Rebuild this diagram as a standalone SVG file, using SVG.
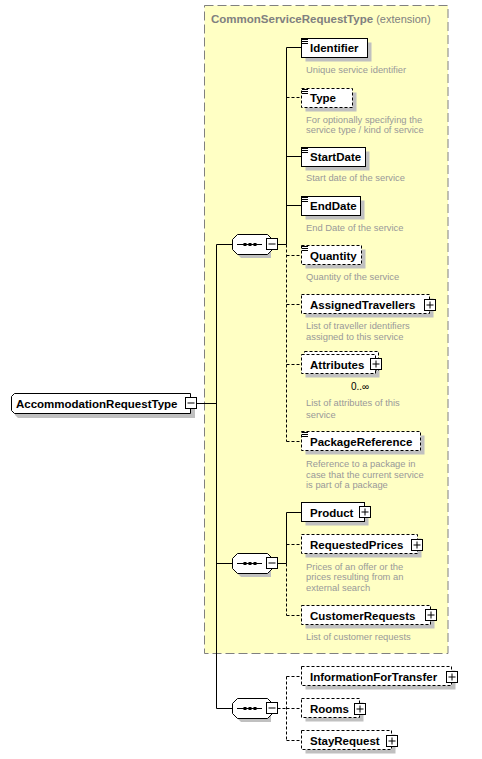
<svg xmlns="http://www.w3.org/2000/svg" width="482" height="759" viewBox="0 0 482 759">
<style>
.bg{fill:#fff}
.ext{fill:#ffffc4;stroke:#808080;stroke-dasharray:9,4}
.box{fill:#fff;stroke:#000}
.opt{stroke-dasharray:3,2}
.sh{fill:#c0c0c0}
.name{font-family:"Liberation Sans",Arial,sans-serif;font-weight:bold;font-size:11.5px;fill:#000}
.desc{font-family:"Liberation Sans",Arial,sans-serif;font-size:9.4px;fill:#999}
.title{font-family:"Liberation Sans",Arial,sans-serif;font-size:11.5px;fill:#808080}
.ln{stroke:#000;fill:none}
.dl{stroke:#000;fill:none;stroke-dasharray:3,2}
.ic{stroke:#000}
.pm{fill:#fff;stroke:#000}
.card{font-family:"Liberation Sans",Arial,sans-serif;font-size:10px;fill:#000}
</style>
<defs>
<g id="plus"><rect class="pm" x="0" y="0" width="11" height="11"/><path class="ic" d="M2,5.5H9M5.5,2V9"/></g>
<g id="minus"><rect class="pm" x="0" y="0" width="11" height="11"/><path class="ic" d="M2,5.5H9"/></g>
<g id="icon"><path class="ic" d="M302,0.5h6M302,2.5h6M302,4.5h6"/></g>
<g id="seq">
<path class="sh" d="M241,4h30v20h-30l-5,-5v-10z"/>
<path class="box" d="M237.5,0.5h30l5,5v10l-5,5h-30l-5,-5v-10z"/>
<path class="ln" d="M237,10.5h25"/>
<rect x="243.5" y="9" width="3" height="3"/>
<rect x="248.5" y="9" width="3" height="3"/>
<rect x="253.5" y="9" width="3" height="3"/>
</g>
</defs>
<rect class="bg" width="482" height="759"/>

<g id="extension">
<rect class="ext" x="204.5" y="5.5" width="243.5" height="648"/>
<text class="title" x="211" y="23"><tspan font-weight="bold">CommonServiceRequestType</tspan><tspan font-size="11px"> (extension)</tspan></text>
</g>

<g id="connectors">
<path class="ln" d="M196.5,403.5H216.5M216.5,244.5V708.5M216.5,244.5H232.5M216.5,563.5H232.5M216.5,708.5H232.5"/>
<path class="ln" d="M277.5,244.5H286.5M286.5,47.5V244.5M286.5,47.5H301.5M286.5,156.5H301.5M286.5,205.5H301.5"/>
<path class="dl" d="M286.5,244.5V441.5M286.5,97.5H301.5M286.5,255.5H301.5M286.5,304.5H301.5M286.5,364.5H301.5M286.5,441.5H301.5"/>
<path class="ln" d="M277.5,563.5H286.5M286.5,512.5V563.5M286.5,512.5H301.5"/>
<path class="dl" d="M286.5,563.5V615.5M286.5,544.5H301.5M286.5,615.5H301.5"/>
<path class="dl" d="M277.5,708.5H286.5M286.5,676.5V740.5M286.5,676.5H301.5M286.5,708.5H301.5M286.5,740.5H301.5"/>
</g>

<g id="AccommodationRequestType">
<path class="sh" d="M18,398h177v20h-177l-3,-3v-14z"/>
<path class="box" d="M14.5,393.5h176v20h-176l-3,-3v-14z"/>
<text class="name" x="16" y="407.5">AccommodationRequestType</text>
<use href="#minus" x="185.5" y="397.5"/>
</g>

<g id="sequence1">
<use href="#seq" y="234"/>
<use href="#minus" x="266.5" y="238.5"/>
</g>
<g id="sequence2">
<use href="#seq" y="553"/>
<use href="#minus" x="266.5" y="557.5"/>
</g>
<g id="sequence3">
<use href="#seq" y="698"/>
<use href="#minus" x="266.5" y="702.5"/>
</g>

<g id="Identifier">
<rect class="sh" x="305.5" y="42.5" width="66" height="19"/>
<rect class="box" x="301.5" y="38.5" width="66" height="19"/>
<use href="#icon" y="39"/>
<text class="name" x="310" y="52">Identifier</text>
<text class="desc" x="306" y="73">Unique service identifier</text>
</g>

<g id="Type">
<rect class="sh" x="305.5" y="92.5" width="51" height="19"/>
<rect class="box opt" x="301.5" y="88.5" width="51" height="19"/>
<use href="#icon" y="89"/>
<text class="name" x="310" y="102">Type</text>
<text class="desc" x="306" y="122.5">For optionally specifying the</text>
<text class="desc" x="306" y="133">service type / kind of service</text>
</g>

<g id="StartDate">
<rect class="sh" x="305.5" y="151.5" width="64" height="19"/>
<rect class="box" x="301.5" y="147.5" width="64" height="19"/>
<use href="#icon" y="148"/>
<text class="name" x="310" y="161">StartDate</text>
<text class="desc" x="306" y="181">Start date of the service</text>
</g>

<g id="EndDate">
<rect class="sh" x="305.5" y="200.5" width="59" height="19"/>
<rect class="box" x="301.5" y="196.5" width="59" height="19"/>
<use href="#icon" y="197"/>
<text class="name" x="310" y="210">EndDate</text>
<text class="desc" x="306" y="231">End Date of the service</text>
</g>

<g id="Quantity">
<rect class="sh" x="305.5" y="249.5" width="60" height="19"/>
<rect class="box opt" x="301.5" y="245.5" width="60" height="19"/>
<use href="#icon" y="246"/>
<text class="name" x="310" y="259.5">Quantity</text>
<text class="desc" x="306" y="280">Quantity of the service</text>
</g>

<g id="AssignedTravellers">
<rect class="sh" x="305.5" y="298.5" width="128" height="19"/>
<rect class="box opt" x="301.5" y="294.5" width="128" height="19"/>
<text class="name" x="310" y="308.5">AssignedTravellers</text>
<use href="#plus" x="424.5" y="299.5"/>
<text class="desc" x="306" y="328.5">List of traveller identifiers</text>
<text class="desc" x="306" y="340">assigned to this service</text>
</g>

<g id="Attributes">
<rect class="sh" x="305.5" y="358.5" width="74" height="19"/>
<rect class="box opt" x="304.5" y="351.5" width="74" height="19"/>
<rect class="box opt" x="301.5" y="354.5" width="74" height="19"/>
<text class="name" x="310" y="368.5">Attributes</text>
<use href="#plus" x="370.5" y="358.5"/>
<text class="card" x="351" y="390">0..∞</text>
<text class="desc" x="306" y="406">List of attributes of this</text>
<text class="desc" x="306" y="417.5">service</text>
</g>

<g id="PackageReference">
<rect class="sh" x="305.5" y="435.5" width="119" height="19"/>
<rect class="box opt" x="301.5" y="431.5" width="119" height="19"/>
<use href="#icon" y="432"/>
<text class="name" x="310" y="446">PackageReference</text>
<text class="desc" x="306" y="467">Reference to a package in</text>
<text class="desc" x="306" y="477.5">case that the current service</text>
<text class="desc" x="306" y="488">is part of a package</text>
</g>

<g id="Product">
<rect class="sh" x="305.5" y="506.5" width="63" height="19"/>
<rect class="box" x="301.5" y="502.5" width="63" height="19"/>
<text class="name" x="310" y="516.5">Product</text>
<use href="#plus" x="359.5" y="506.5"/>
</g>

<g id="RequestedPrices">
<rect class="sh" x="305.5" y="538.5" width="116" height="19"/>
<rect class="box opt" x="301.5" y="534.5" width="116" height="19"/>
<text class="name" x="310" y="549">RequestedPrices</text>
<use href="#plus" x="411.5" y="539.5"/>
<text class="desc" x="306" y="569.5">Prices of an offer or the</text>
<text class="desc" x="306" y="580">prices resulting from an</text>
<text class="desc" x="306" y="591">external search</text>
</g>

<g id="CustomerRequests">
<rect class="sh" x="305.5" y="609.5" width="129" height="19"/>
<rect class="box opt" x="301.5" y="605.5" width="129" height="19"/>
<text class="name" x="310" y="619.5">CustomerRequests</text>
<use href="#plus" x="425.5" y="609.5"/>
<text class="desc" x="306" y="640">List of customer requests</text>
</g>

<g id="InformationForTransfer">
<rect class="sh" x="305.5" y="670.5" width="150" height="19"/>
<rect class="box opt" x="301.5" y="666.5" width="150" height="19"/>
<text class="name" x="310" y="681">InformationForTransfer</text>
<use href="#plus" x="446.5" y="671.5"/>
</g>

<g id="Rooms">
<rect class="sh" x="305.5" y="702.5" width="58" height="19"/>
<rect class="box opt" x="301.5" y="698.5" width="58" height="19"/>
<text class="name" x="310" y="712.5">Rooms</text>
<use href="#plus" x="354.5" y="703.5"/>
</g>

<g id="StayRequest">
<rect class="sh" x="305.5" y="734.5" width="90" height="19"/>
<rect class="box opt" x="301.5" y="730.5" width="90" height="19"/>
<text class="name" x="310" y="745">StayRequest</text>
<use href="#plus" x="386.5" y="735.5"/>
</g>
</svg>
